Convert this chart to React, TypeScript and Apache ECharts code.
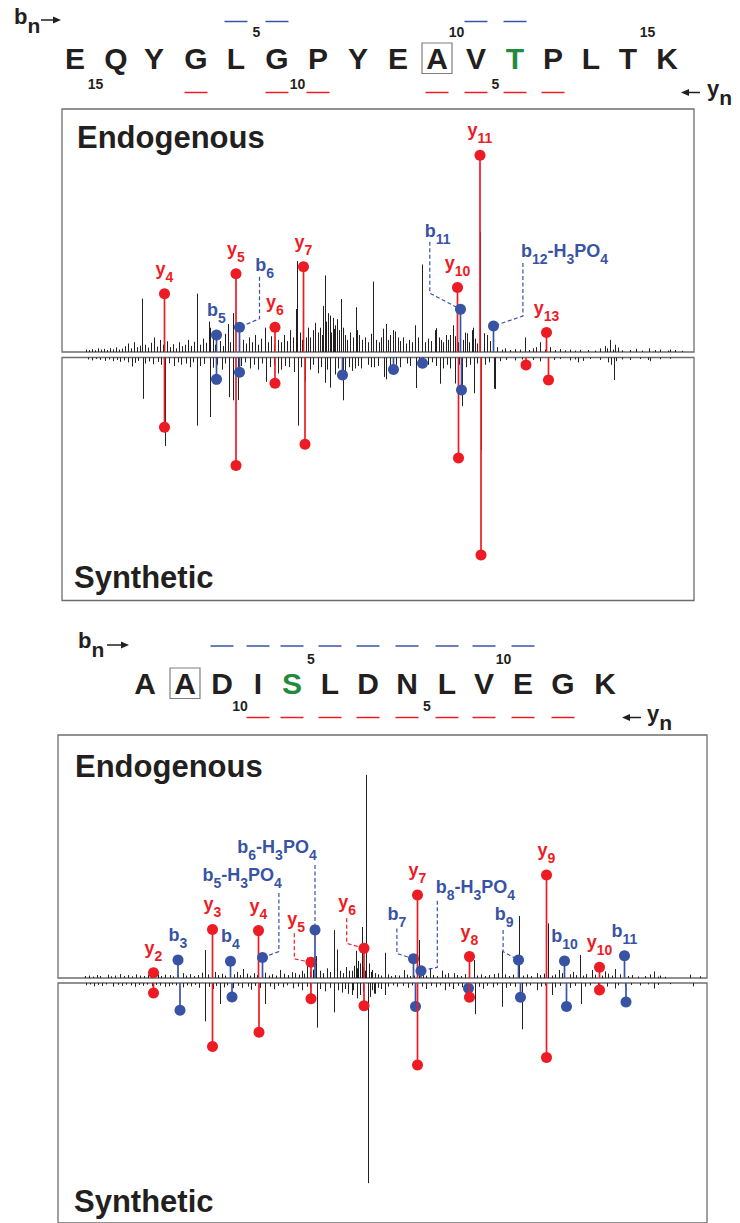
import React, { useEffect, useRef } from "react";
import * as echarts from "echarts";

// ---------------- DATA ----------------
const TOP_SEQUENCE = ["E", "Q", "Y", "G", "L", "G", "P", "Y", "E", "A", "V", "T", "P", "L", "T", "K"];
const TOP_PHOSPHO_SITE = 11;
const TOP_BOXED_SITE = 9;
const TOP_B_IONS_SEEN = [5, 6, 11, 12];
const TOP_Y_IONS_SEEN = [4, 5, 6, 7, 10, 11, 13];
const TOP_B_NUMBERS = [5, 10, 15];
const TOP_Y_NUMBERS = [15, 10, 5];

const BOTTOM_SEQUENCE = ["A", "A", "D", "I", "S", "L", "D", "N", "L", "V", "E", "G", "K"];
const BOTTOM_PHOSPHO_SITE = 4;
const BOTTOM_BOXED_SITE = 1;
const BOTTOM_B_IONS_SEEN = [3, 4, 5, 6, 7, 8, 9, 10, 11];
const BOTTOM_Y_IONS_SEEN = [2, 3, 4, 5, 6, 7, 8, 9, 10];
const BOTTOM_B_NUMBERS = [5, 10];
const BOTTOM_Y_NUMBERS = [10, 5];

const TOP_MZ_RANGE = [124, 1388];
const BOTTOM_MZ_RANGE = [116, 1414];

// [ion, m/z, relative intensity %]
const TOP_ENDO_IONS: [string, number, number][] = [
  ["y4", 329, 24.0], ["b5", 433, 7.0], ["y5", 472, 32.2], ["b6", 479, 10.2],
  ["y6", 550, 10.2], ["y7", 607, 35.1], ["y10", 915, 26.5], ["b11", 921, 17.6],
  ["y11", 960, 81.0], ["b12-H3PO4", 987, 10.7], ["y13", 1093, 8.0],
];
const TOP_SYN_IONS: [string, number, number][] = [
  ["y4", 329, 28.7], ["b5", 433, 9.0], ["y5", 472, 44.4], ["b6", 479, 6.1],
  ["y6", 550, 10.6], ["y7", 610, 35.7], ["b7", 685, 7.2], ["b8", 787, 4.9],
  ["b9", 845, 2.4], ["y10", 917, 41.4], ["b11", 923, 13.4], ["y11", 962, 81.3],
  ["y12", 1052, 3.1], ["y13", 1097, 9.3],
];
const BOTTOM_ENDO_IONS: [string, number, number][] = [
  ["y2", 307, 2.2], ["b3", 356, 7.4], ["y3", 425, 20.0], ["b4", 461, 6.9],
  ["y4", 517, 19.5], ["b5-H3PO4", 525, 8.4], ["y5", 622, 6.5], ["b6-H3PO4", 630, 19.8],
  ["y6", 728, 12.2], ["b7", 827, 7.9], ["y7", 835, 34.2], ["b8-H3PO4", 842, 3.0],
  ["y8", 939, 8.8], ["b9", 1037, 7.4], ["y9", 1093, 42.4], ["b10", 1129, 7.0],
  ["y10", 1199, 4.4], ["b11", 1249, 9.2],
];
const BOTTOM_SYN_IONS: [string, number, number][] = [
  ["y2", 307, 4.2], ["b3", 360, 11.4], ["y3", 425, 26.5], ["b4", 464, 5.8],
  ["y4", 518, 20.5], ["y5", 622, 6.6], ["y6", 728, 9.5], ["b7", 831, 9.8],
  ["y7", 835, 34.2], ["b8", 937, 2.2], ["y8", 939, 5.9], ["b9", 1041, 5.9],
  ["y9", 1093, 31.0], ["b10", 1133, 9.8], ["y10", 1199, 2.9], ["b11", 1252, 7.9],
];

// unassigned peaks [m/z, relative intensity %]
const TOP_ENDO_PEAKS: [number, number][] = [
  [284, 22], [308, 6], [320, 5], [394, 24], [418, 12.5], [420, 10], [456, 11.5], [466, 16],
  [530, 10], [592, 17.7], [594, 37.4], [612, 6], [625, 9], [636, 8], [646, 19], [650, 31.5],
  [656, 16], [660, 15], [665, 14], [668, 9.5], [673, 13.5], [674, 12], [682, 21.8], [686, 10],
  [711, 18.4], [713, 9], [746, 29], [766, 9.6], [772, 11.5], [786, 9], [790, 8.4], [796, 6],
  [830, 11], [843, 11.8], [844, 36], [870, 9], [872, 9.8], [881, 5], [900, 7], [905, 11],
  [933, 7.7], [943, 9], [946, 10], [960, 49.5], [967, 7.7], [974, 7], [1049, 6], [1080, 4],
  [1220, 5], [1230, 3], [1297, 1.5], [1340, 1],
];
const TOP_ENDO_NOISE: [number, number][] = [
  [172, 1], [178, 0.8], [184, 1.2], [190, 0.7], [196, 1.5], [202, 1], [208, 1.3], [214, 0.8],
  [220, 1.6], [226, 1.1], [232, 1.9], [238, 1], [244, 1.4], [250, 2.4], [256, 3.5], [262, 1.5],
  [268, 4], [274, 2], [280, 2.6], [290, 3], [296, 1.8], [302, 3.8], [314, 2.2], [326, 3],
  [334, 4.4], [340, 2], [346, 3.2], [352, 1.5], [358, 4], [364, 2.4], [370, 3], [376, 5],
  [382, 2.5], [388, 4.2], [400, 3], [406, 5.5], [412, 3.8], [426, 6], [430, 3], [440, 4.5],
  [446, 2.5], [450, 7.5], [460, 4], [486, 5], [492, 3.5], [498, 6], [504, 4], [510, 7],
  [516, 3], [522, 5.5], [536, 4], [542, 6.5], [548, 3], [556, 5], [562, 4], [568, 7],
  [574, 4.5], [580, 9], [586, 6], [600, 8], [604, 5], [616, 10], [620, 6], [630, 12],
  [640, 10], [644, 7], [652, 12.5], [662, 8], [670, 11], [678, 9], [690, 7], [694, 5],
  [700, 8], [706, 6], [718, 7], [724, 5], [730, 6], [736, 4], [742, 7.5], [752, 5],
  [758, 4], [762, 6], [776, 5], [780, 7], [800, 4.5], [806, 6], [812, 3.5], [818, 5],
  [824, 4], [836, 6], [850, 4], [856, 5.5], [862, 4.5], [878, 6], [886, 4], [892, 7],
  [896, 5], [910, 6.5], [916, 4], [926, 5], [930, 8], [938, 4], [950, 5.5], [954, 3.5],
  [980, 4.5], [986, 3], [994, 2], [1004, 1], [1010, 1.5], [1020, 0.8], [1030, 1.2], [1040, 1],
  [1058, 0.8], [1066, 1.5], [1072, 2], [1090, 1], [1100, 2], [1110, 0.8], [1120, 1.2], [1130, 0.7],
  [1140, 1], [1150, 0.6], [1160, 0.9], [1176, 0.8], [1190, 0.6], [1200, 1.5], [1210, 2.5], [1214, 1.5],
  [1226, 1], [1236, 1.8], [1244, 0.7], [1260, 0.8], [1272, 1.3], [1284, 0.6], [1310, 0.8], [1320, 1],
  [1336, 0.6], [1350, 0.8], [1364, 0.5],
];
const TOP_SYN_PEAKS: [number, number][] = [
  [264, 3.7], [285, 17], [330, 36.4], [393, 28], [419, 24.5], [457, 16.3], [466, 17.6], [476, 17.5],
  [532, 10], [556, 6.6], [596, 28], [610, 10], [650, 10.4], [659, 12.4], [660, 12], [685, 17.6],
  [710, 4.5], [747, 4], [767, 8], [772, 9], [780, 5], [831, 12.6], [880, 10.8], [886, 4.5],
  [910, 10.7], [924, 20], [948, 14.7], [962, 38], [987, 12.8], [990, 13], [1156, 2], [1227, 9.3],
  [1300, 1.5],
];
const TOP_SYN_NOISE: [number, number][] = [
  [176, 0.8], [184, 1.2], [192, 0.6], [200, 1], [210, 1.4], [218, 0.8], [226, 1.5], [234, 1],
  [240, 1.8], [248, 1.2], [256, 2], [270, 2.2], [276, 1.4], [290, 2.5], [298, 1.6], [306, 2.8],
  [316, 1.8], [322, 3], [338, 2.4], [348, 3.5], [356, 2], [362, 3], [372, 2.5], [380, 4],
  [386, 2], [400, 3.5], [408, 2.6], [426, 4.2], [434, 3], [444, 5], [450, 2.5], [482, 3.5],
  [490, 2], [500, 4.5], [508, 3], [516, 5], [524, 2.5], [540, 4], [548, 3], [562, 5],
  [570, 3.5], [578, 4], [588, 6], [602, 4], [620, 5], [626, 3], [636, 6.5], [642, 4],
  [654, 5], [670, 7], [676, 4.5], [690, 6], [698, 4], [704, 5.5], [716, 3.5], [722, 4.5],
  [736, 3], [742, 4], [756, 3.5], [792, 3], [800, 4], [814, 2.5], [820, 3.5], [838, 4],
  [846, 2.5], [856, 3], [864, 2], [872, 3.5], [894, 3], [900, 4.5], [918, 3], [932, 4],
  [940, 3], [954, 2.5], [970, 3], [978, 2], [1000, 1.5], [1012, 1], [1030, 1.2], [1044, 0.8],
  [1066, 1], [1080, 1.6], [1096, 0.8], [1108, 1], [1120, 0.6], [1140, 1.2], [1150, 0.8], [1166, 1.4],
  [1180, 0.6], [1200, 1], [1216, 2], [1222, 3], [1232, 1.5], [1244, 0.8], [1260, 1], [1280, 0.6],
  [1296, 1], [1320, 0.7], [1340, 0.5],
];
const BOTTOM_ENDO_PEAKS: [number, number][] = [
  [330, 1.4], [410, 11.5], [486, 3.7], [560, 3.3], [590, 2], [614, 8.4], [632, 9], [667, 19.7],
  [673, 11.7], [704, 3], [711, 11.2], [716, 7], [723, 21], [732, 83.6], [737, 6], [743, 3.3],
  [769, 10.4], [807, 3.3], [837, 15.6], [859, 4], [883, 3], [907, 2], [947, 7.4], [1003, 11.2],
  [1038, 25.5], [1073, 2], [1095, 22.5], [1117, 3.3], [1159, 9.5], [1183, 3.3], [1210, 2.7], [1230, 3.7],
  [1307, 2.7], [1320, 1], [1380, 1.4], [1400, 0.7],
];
const BOTTOM_ENDO_NOISE: [number, number][] = [
  [170, 0.8], [178, 1], [186, 0.6], [194, 1.2], [200, 0.8], [216, 1.4], [222, 0.7], [230, 1],
  [240, 1.6], [248, 0.8], [256, 1.2], [264, 0.7], [272, 1.5], [280, 1], [288, 0.8], [296, 1.3],
  [302, 0.9], [316, 1.5], [322, 0.8], [340, 1.2], [346, 0.7], [356, 1.4], [366, 2], [372, 1],
  [380, 1.6], [388, 0.8], [396, 1.2], [404, 2.2], [416, 1.5], [430, 2.5], [436, 1.2], [444, 1.8],
  [450, 1], [468, 1.5], [474, 2.5], [480, 1.2], [494, 1.8], [500, 1], [508, 2], [514, 1.2],
  [530, 2.2], [538, 1], [544, 1.6], [552, 1], [568, 1.8], [576, 1.2], [584, 2.4], [598, 1.4],
  [604, 3], [608, 1.8], [620, 2.5], [626, 3.5], [640, 3], [646, 2], [654, 4], [660, 2.5],
  [680, 3], [686, 2], [692, 4.5], [698, 3], [708, 5], [714, 4], [720, 6], [726, 4.5],
  [729, 3], [742, 2.5], [750, 2], [756, 1.5], [762, 1], [776, 1.5], [782, 0.8], [790, 1.2],
  [798, 1], [814, 1.4], [820, 0.8], [828, 1], [846, 1.5], [852, 1], [866, 1.2], [874, 0.8],
  [890, 1.4], [896, 2], [914, 1.2], [922, 0.8], [930, 1.6], [954, 1], [962, 1.5], [970, 0.8],
  [978, 1.2], [988, 1.6], [996, 2], [1010, 1.5], [1018, 0.8], [1026, 1.4], [1046, 1], [1054, 1.5],
  [1062, 0.8], [1080, 1.2], [1088, 1.8], [1104, 1], [1110, 1.5], [1124, 2], [1140, 1.5], [1146, 2.5],
  [1152, 1.2], [1166, 1], [1172, 1.6], [1190, 1.4], [1204, 1], [1216, 1.8], [1224, 1], [1240, 1.5],
  [1256, 0.8], [1264, 1.2], [1276, 0.6], [1290, 0.8], [1300, 1.5], [1316, 0.6], [1330, 0.5],
];
const BOTTOM_SYN_PEAKS: [number, number][] = [
  [330, 1.6], [409, 16], [439, 8.8], [530, 8.8], [613, 1.6], [633, 18.6], [667, 12.2], [703, 5],
  [713, 6.4], [735, 83.4], [740, 5.8], [747, 4.4], [750, 4.5], [770, 5], [890, 3], [950, 13],
  [1003, 9.9], [1043, 19.3], [1073, 3], [1103, 5], [1161, 8.8], [1230, 2.3], [1307, 2.3], [1385, 1.4],
];
const BOTTOM_SYN_NOISE: [number, number][] = [
  [172, 1], [180, 0.6], [188, 1.4], [196, 0.8], [204, 1.2], [212, 0.6], [226, 1.5], [236, 0.8],
  [244, 1.2], [252, 0.7], [262, 1], [270, 1.6], [278, 0.8], [286, 1.2], [294, 0.7], [304, 1.4],
  [312, 0.8], [320, 1.1], [338, 1.3], [344, 0.7], [352, 1], [366, 1.8], [374, 1], [382, 1.4],
  [390, 0.8], [398, 2], [418, 1.6], [426, 2.5], [432, 1.2], [448, 1.8], [454, 1], [466, 2.2],
  [476, 1.2], [484, 2], [496, 1.5], [502, 2.8], [510, 1.2], [520, 2], [540, 1.5], [548, 2.6],
  [556, 1.2], [566, 1.8], [574, 1], [586, 2.2], [596, 1.5], [604, 3], [620, 2], [640, 2.5],
  [650, 3.5], [660, 2], [676, 3], [684, 4], [690, 2.5], [696, 4.5], [706, 3], [720, 5],
  [726, 3.5], [744, 3], [756, 2], [762, 2.5], [776, 1.5], [786, 1], [794, 1.6], [806, 1.2],
  [816, 2], [824, 1], [844, 1.5], [852, 2.5], [862, 1.2], [872, 1.8], [880, 1], [898, 1.5],
  [906, 2.5], [916, 1.2], [924, 1.8], [932, 1], [958, 1.6], [966, 2.4], [974, 1.2], [986, 1.8],
  [994, 1], [1012, 2], [1020, 1.2], [1030, 1.6], [1052, 1.4], [1060, 1], [1082, 1.5], [1090, 1],
  [1110, 1.8], [1120, 1.2], [1140, 2], [1150, 1.2], [1170, 1.5], [1180, 1], [1196, 1.2], [1214, 1.5],
  [1236, 1], [1250, 1.6], [1262, 0.8], [1280, 1], [1296, 0.6], [1316, 0.8], [1340, 0.5],
];

// ---------------- LAYOUT / STYLE ----------------
const FONT = "Arial, 'Liberation Sans', Helvetica, sans-serif";
const RED = "#ed1c24";
const BLUE = "#3953a4";
const INK = "#231f20";
const GREEN = "#238b3f";
const BORDER = "#6d6e71";

const TOP_LETTER_X = [75, 116, 154, 196, 236, 277, 318, 358, 398, 437, 476, 515, 553, 591, 628, 667];
const BOTTOM_LETTER_X = [145, 185, 222, 258, 292, 330, 368, 407, 447, 484, 523, 563, 605];

const GRIDS = [
  { left: 62, top: 109, width: 632, height: 243 },
  { left: 62, top: 357.5, width: 632, height: 243 },
  { left: 58, top: 735, width: 649, height: 243 },
  { left: 58, top: 983, width: 649, height: 243 },
];

type Lay = { dx: number; dy: number; align: string; leader?: number[][] };
const DEFAULT_LAY: Lay = { dx: 0, dy: -10, align: "center" };
const TOP_LABEL_LAYOUT: Record<string, Lay> = {
  b6: { dx: 15.7, dy: -47, align: "left", leader: [[20, -50.5], [20, -8.5], [0, 0]] },
  b11: { dx: -35.7, dy: -63, align: "left", leader: [[-30.7, -67.5], [-30.7, -16], [0, 0]] },
  "b12-H3PO4": { dx: 27.4, dy: -60, align: "left", leader: [[29.4, -63], [29.4, -10], [0, 0]] },
};
const BOTTOM_LABEL_LAYOUT: Record<string, Lay> = {
  "b5-H3PO4": { dx: 19.4, dy: -67.4, align: "right", leader: [[16.4, -64.7], [16.4, -6], [0, 0]] },
  "b6-H3PO4": { dx: 1.7, dy: -68, align: "right", leader: [[0, -65], [0, 0]] },
  y5: { dx: -23.7, dy: -28.6, align: "left", leader: [[-16.7, -29], [-16.7, -3.3], [0, 0]] },
  y6: { dx: -25.7, dy: -31.3, align: "left", leader: [[-17.3, -30], [-17.3, -5], [0, 0]] },
  b7: { dx: -26, dy: -30, align: "left", leader: [[-16.6, -30.4], [-16.6, -5.4], [0, 0]] },
  "b8-H3PO4": { dx: 14.7, dy: -68.7, align: "left", leader: [[16.3, -70], [16.3, -3.4], [0, 0]] },
  b9: { dx: -23.7, dy: -30.7, align: "left", leader: [[-15.4, -30], [-15.4, -8.3], [0, 0]] },
};

function richLabel(label: string) {
  const parts = label.match(/\d+|[^\d]+/g) || [];
  return parts.map((p) => (/\d/.test(p[0]) ? `{s|${p}}` : `{m|${p}}`)).join("");
}
function ionRich(color: string) {
  return {
    m: { fontFamily: FONT, fontWeight: "bold", fontSize: 18, lineHeight: 18, fill: color, verticalAlign: "top" },
    s: { fontFamily: FONT, fontWeight: "bold", fontSize: 14, lineHeight: 24, fill: color, padding: [10, 0, 0, 0], verticalAlign: "top" },
  };
}

function peakSeries(peaks: [number, number][], gi: number) {
  return {
    type: "custom",
    coordinateSystem: "cartesian2d",
    xAxisIndex: gi,
    yAxisIndex: gi,
    silent: true,
    z: 2,
    data: peaks,
    encode: { x: 0, y: 1 },
    renderItem: (params: any, api: any) => {
      const x = api.value(0);
      const p0 = api.coord([x, 0]);
      const p1 = api.coord([x, api.value(1)]);
      const px = Math.round(p0[0]) + 0.5;
      return {
        type: "line",
        shape: { x1: px, y1: p0[1], x2: px, y2: p1[1] },
        style: { stroke: INK, lineWidth: 1 },
      };
    },
  };
}

function ionSeries(ions: [string, number, number][], gi: number, layout: Record<string, Lay> | null) {
  return {
    type: "custom",
    coordinateSystem: "cartesian2d",
    xAxisIndex: gi,
    yAxisIndex: gi,
    silent: true,
    z: 3,
    data: ions.map((d) => [d[1], d[2]]),
    encode: { x: 0, y: 1 },
    renderItem: (params: any, api: any) => {
      const name = ions[params.dataIndex][0];
      const color = name[0] === "b" ? BLUE : RED;
      const x = api.value(0);
      const base = api.coord([x, 0]);
      const tip = api.coord([x, api.value(1)]);
      const children: any[] = [];
      const lay = layout ? layout[name] || DEFAULT_LAY : null;
      if (lay && lay.leader) {
        children.push({
          type: "polyline",
          shape: { points: lay.leader.map(([dx, dy]) => [tip[0] + dx, tip[1] + dy]) },
          style: { stroke: color, lineWidth: 1.2, lineDash: [4, 2.5], fill: "none" },
        });
      }
      children.push({
        type: "line",
        shape: { x1: base[0], y1: base[1], x2: tip[0], y2: tip[1] },
        style: { stroke: color, lineWidth: 1.7 },
      });
      children.push({ type: "circle", shape: { cx: tip[0], cy: tip[1], r: 5.5 }, style: { fill: color } });
      if (lay) {
        children.push({
          type: "text",
          x: tip[0] + lay.dx,
          y: tip[1] + lay.dy,
          style: { text: richLabel(name), rich: ionRich(color), align: lay.align, verticalAlign: "bottom" },
        });
      }
      return { type: "group", children };
    },
  };
}

function txt(x: number, y: number, text: string, size: number, color: string, align = "center", va = "middle") {
  return {
    type: "text",
    x,
    y,
    silent: true,
    style: { text, fill: color, font: `bold ${size}px ${FONT}`, align, verticalAlign: va, textAlign: align, textVerticalAlign: va },
  };
}
function hline(x1: number, x2: number, y: number, color: string, w = 1.5) {
  return { type: "line", silent: true, shape: { x1, y1: y, x2, y2: y }, style: { stroke: color, lineWidth: w } };
}
function arrow(xFrom: number, xTo: number, y: number) {
  const dir = xTo > xFrom ? 1 : -1;
  const headLen = 8;
  return [
    hline(xFrom, xTo - dir * headLen + dir * 1, y, INK, 1.5),
    {
      type: "polygon",
      silent: true,
      shape: { points: [[xTo, y], [xTo - dir * headLen, y - 3.5], [xTo - dir * headLen, y + 3.5]] },
      style: { fill: INK },
    },
  ];
}
function ionTerm(x: number, y: number, letter: string) {
  return {
    type: "text",
    x,
    y,
    silent: true,
    style: {
      text: `{m|${letter}}{s|n}`,
      align: "left",
      verticalAlign: "middle",
      rich: {
        m: { fontFamily: FONT, fontWeight: "bold", fontSize: 22, lineHeight: 22, fill: INK, verticalAlign: "top" },
        s: { fontFamily: FONT, fontWeight: "bold", fontSize: 21, lineHeight: 31, padding: [9, 0, 0, 0], fill: INK, verticalAlign: "top" },
      },
    },
  };
}

function header(
  seq: string[], lx: number[], letterY: number, phospho: number, boxed: number,
  bSeen: number[], ySeen: number[], bNums: number[], yNums: number[],
  blueY: number, redY: number, bNumY: number, yNumY: number
) {
  const els: any[] = [];
  const L = seq.length;
  seq.forEach((ch, i) => els.push(txt(lx[i], letterY, ch, 30, i === phospho ? GREEN : INK)));
  els.push({
    type: "rect",
    silent: true,
    shape: { x: lx[boxed] - 15, y: letterY - 15, width: 30, height: 30.5 },
    style: { fill: "none", stroke: "#7f7f7f", lineWidth: 1.2 },
  });
  bSeen.forEach((n) => els.push(hline(lx[n - 1] - 11.5, lx[n - 1] + 11.5, blueY, BLUE)));
  ySeen.forEach((n) => els.push(hline(lx[L - n] - 11.5, lx[L - n] + 11.5, redY, RED)));
  bNums.forEach((n) => els.push(txt((lx[n - 1] + lx[n]) / 2, bNumY, String(n), 14, INK)));
  yNums.forEach((n) => els.push(txt((lx[L - n - 1] + lx[L - n]) / 2, yNumY, String(n), 14, INK)));
  return els;
}

function buildOption() {
  const graphic: any[] = [
    ...header(TOP_SEQUENCE, TOP_LETTER_X, 58, TOP_PHOSPHO_SITE, TOP_BOXED_SITE, TOP_B_IONS_SEEN, TOP_Y_IONS_SEEN,
      TOP_B_NUMBERS, TOP_Y_NUMBERS, 21.5, 92.5, 32, 84),
    ...header(BOTTOM_SEQUENCE, BOTTOM_LETTER_X, 683, BOTTOM_PHOSPHO_SITE, BOTTOM_BOXED_SITE, BOTTOM_B_IONS_SEEN,
      BOTTOM_Y_IONS_SEEN, BOTTOM_B_NUMBERS, BOTTOM_Y_NUMBERS, 646, 717.5, 659, 706),
    ionTerm(14, 21, "b"),
    ...arrow(41, 61, 20),
    ionTerm(707, 93, "y"),
    ...arrow(700, 681, 92.5),
    ionTerm(78, 645, "b"),
    ...arrow(107, 129, 645),
    ionTerm(647, 718, "y"),
    ...arrow(641, 622, 717.5),
    txt(77, 137.5, "Endogenous", 31, INK, "left"),
    txt(74, 577.5, "Synthetic", 31, INK, "left"),
    txt(75, 766.5, "Endogenous", 31, INK, "left"),
    txt(74, 1201.5, "Synthetic", 31, INK, "left"),
  ];
  return {
    animation: false,
    backgroundColor: "#ffffff",
    grid: GRIDS.map((g) => ({ ...g, show: true, borderColor: BORDER, borderWidth: 1.3, backgroundColor: "transparent" })),
    xAxis: GRIDS.map((g, i) => ({
      type: "value",
      gridIndex: i,
      min: i < 2 ? TOP_MZ_RANGE[0] : BOTTOM_MZ_RANGE[0],
      max: i < 2 ? TOP_MZ_RANGE[1] : BOTTOM_MZ_RANGE[1],
      show: false,
    })),
    yAxis: GRIDS.map((g, i) => ({ type: "value", gridIndex: i, min: 0, max: 100, inverse: i % 2 === 1, show: false })),
    series: [
      peakSeries(TOP_ENDO_NOISE, 0),
      peakSeries(TOP_ENDO_PEAKS, 0),
      peakSeries(TOP_SYN_NOISE, 1),
      peakSeries(TOP_SYN_PEAKS, 1),
      peakSeries(BOTTOM_ENDO_NOISE, 2),
      peakSeries(BOTTOM_ENDO_PEAKS, 2),
      peakSeries(BOTTOM_SYN_NOISE, 3),
      peakSeries(BOTTOM_SYN_PEAKS, 3),
      ionSeries(TOP_ENDO_IONS, 0, TOP_LABEL_LAYOUT),
      ionSeries(TOP_SYN_IONS, 1, null),
      ionSeries(BOTTOM_ENDO_IONS, 2, BOTTOM_LABEL_LAYOUT),
      ionSeries(BOTTOM_SYN_IONS, 3, null),
    ],
    graphic,
  };
}

export default function App() {
  const ref = useRef<HTMLDivElement>(null);
  useEffect(() => {
    document.body.style.margin = "0";
    const chart = echarts.init(ref.current as HTMLDivElement, null, { renderer: "svg" });
    chart.setOption(buildOption() as any);
    return () => chart.dispose();
  }, []);
  return <div ref={ref} style={{ width: 740, height: 1223, background: "#fff" }} />;
}
